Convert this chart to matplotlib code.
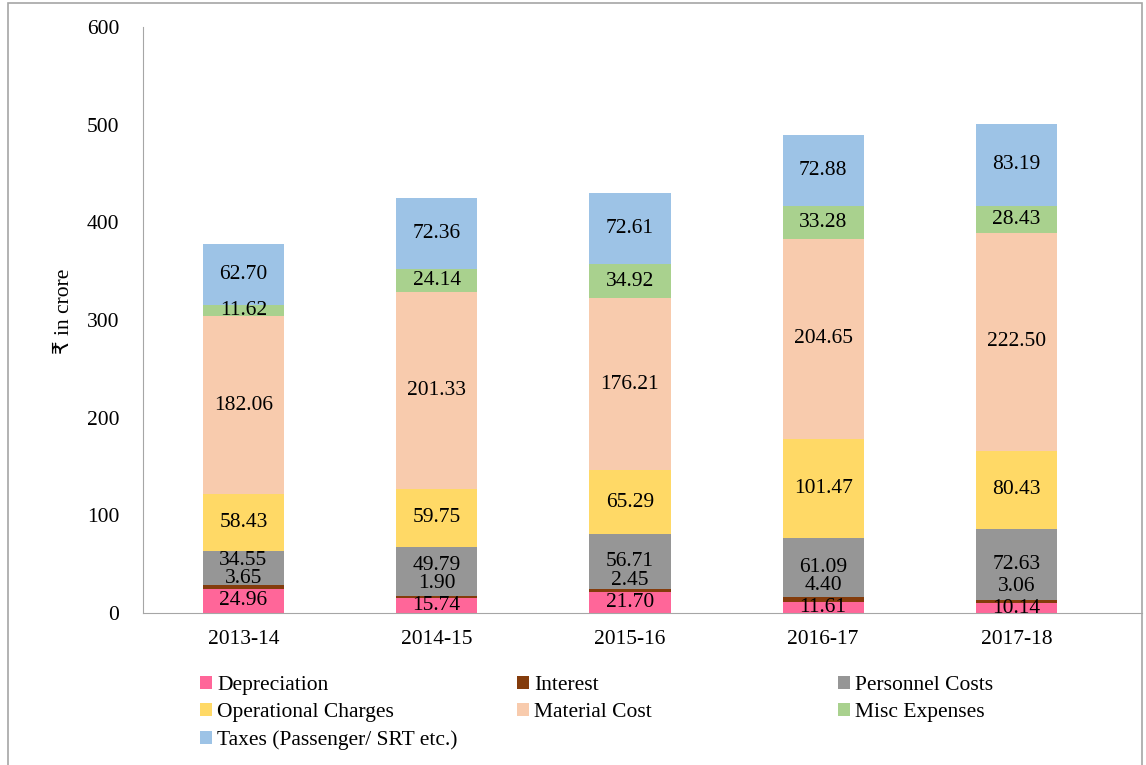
import matplotlib
matplotlib.use("Agg")
import matplotlib.pyplot as plt
from matplotlib.patches import Patch, Rectangle
import numpy as np

years = ["2013-14", "2014-15", "2015-16", "2016-17", "2017-18"]
depreciation = [24.96, 15.74, 21.70, 11.61, 10.14]
interest = [3.65, 1.90, 2.45, 4.40, 3.06]
personnel = [34.55, 49.79, 56.71, 61.09, 72.63]
operational = [58.43, 59.75, 65.29, 101.47, 80.43]
material = [182.06, 201.33, 176.21, 204.65, 222.50]
misc = [11.62, 24.14, 34.92, 33.28, 28.43]
taxes = [62.70, 72.36, 72.61, 72.88, 83.19]

series_names = ["Depreciation", "Interest", "Personnel Costs", "Operational Charges",
                "Material Cost", "Misc Expenses", "Taxes (Passenger/ SRT etc.)"]
series_vals = [depreciation, interest, personnel, operational, material, misc, taxes]
colors = ["#FF6699", "#843C0C", "#969696", "#FFD966", "#F8CBAD", "#A9D18E", "#9DC3E6"]

plt.rcParams['font.family'] = ['Liberation Serif', 'DejaVu Sans']
FS = 15.5

fig = plt.figure(figsize=(11.46, 7.65), dpi=100)
W, H = 1146, 765
ax = fig.add_axes([143 / W, 1 - 613 / H, (1142 - 143) / W, (613 - 27) / H])

x = np.arange(len(years))
bottom = np.zeros(len(years))
bw = 0.42
segs = []
for name, vals, c in zip(series_names, series_vals, colors):
    v = np.array(vals)
    ax.bar(x, v, bw, bottom=bottom, color=c, label=name, zorder=2)
    segs.append((bottom.copy(), v.copy()))
    bottom = bottom + v

# data labels (small bottom segments are stacked apart as in the original)
step1 = 22.5  # label gap between depreciation and interest (data units)
step2 = 18.5  # gap between interest and personnel labels
for si, (b, v) in enumerate(segs):
    for i in range(len(years)):
        txt = f"{v[i]:.2f}"
        yc = b[i] + v[i] / 2
        if si == 1:
            yc = segs[0][1][i] / 2 + step1
        elif si == 2:
            yint = segs[0][1][i] / 2 + step1
            yc = max(yc, yint + step2)
        ax.text(x[i], yc, txt, ha="center", va="center", fontsize=FS, zorder=5)

ax.set_xlim(-0.52, 4.65)
ax.set_ylim(0, 600)
ax.set_yticks(range(0, 601, 100))
ax.set_xticks(x)
ax.set_xticklabels(years)
ax.tick_params(axis="both", length=0, labelsize=FS)
ax.tick_params(axis="y", pad=17)
ax.tick_params(axis="x", pad=12)
for s in ["top", "right"]:
    ax.spines[s].set_visible(False)
ax.spines["left"].set_color("#A6A6A6")
ax.spines["bottom"].set_color("#A6A6A6")
ax.set_ylabel("₹ in crore", fontsize=FS)
ax.yaxis.set_label_coords((74 - 143) / (1142 - 143), (613 - 311) / (613 - 27))

# legend in three columns placed manually
handles = [Patch(facecolor=c, edgecolor="none") for c in colors]
cols = [[0, 3, 6], [1, 4], [2, 5]]
col_x = [200, 517, 838]
for cx, idx in zip(col_x, cols):
    fig.legend([handles[k] for k in idx], [series_names[k] for k in idx],
               loc="upper left", bbox_to_anchor=(cx / W, 1 - 676 / H),
               frameon=False, fontsize=FS, handlelength=0.55, handleheight=0.55,
               handletextpad=0.25, labelspacing=0.38, borderpad=0, borderaxespad=0)

# chart border
fig.patches.append(Rectangle((8 / W, -0.05), (1142 - 8) / W, (1 - 3 / H) + 0.05,
                             transform=fig.transFigure, fill=False,
                             edgecolor="#A6A6A6", linewidth=1.2))

fig.savefig("out.png", dpi=100)
